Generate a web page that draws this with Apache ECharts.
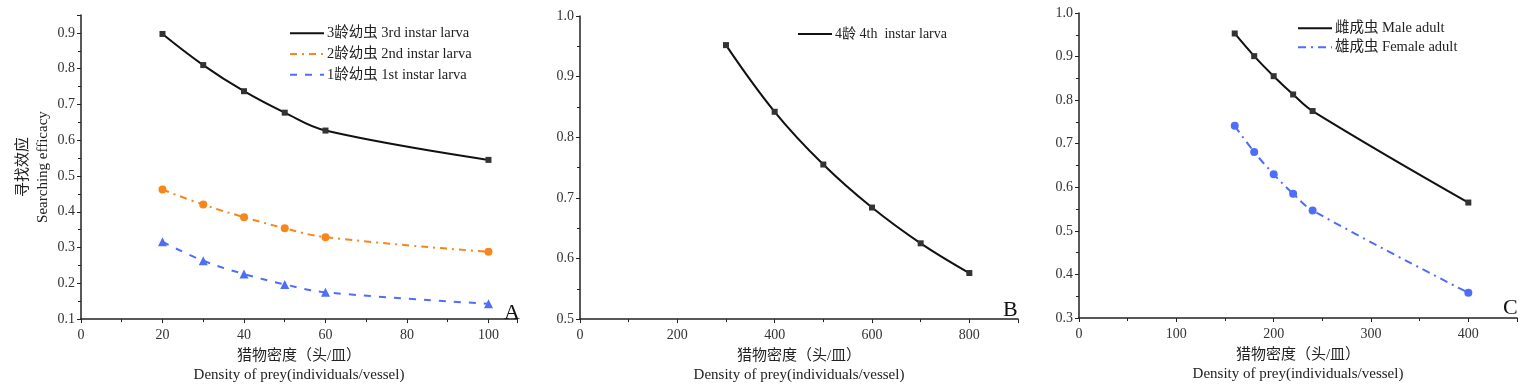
<!DOCTYPE html>
<html>
<head>
<meta charset="utf-8">
<script src="https://cdn.jsdelivr.net/npm/echarts@6/dist/echarts.min.js"></script>
<style>
html,body{margin:0;padding:0;background:#fff;}
#c{width:1535px;height:390px;}
</style>
</head>
<body>
<div id="c"></div>
<script>
// Panel A
const densityA = [20, 30, 40, 50, 60, 100];
const larva3 = [0.897, 0.810, 0.737, 0.677, 0.627, 0.545];
const larva2 = [0.462, 0.420, 0.385, 0.354, 0.329, 0.288];
const larva1 = [0.316, 0.263, 0.226, 0.197, 0.175, 0.143];
// Panel B
const densityB = [300, 400, 500, 600, 700, 800];
const larva4 = [0.952, 0.842, 0.755, 0.684, 0.625, 0.576];
// Panel C
const densityC = [160, 180, 200, 220, 240, 400];
const maleAdult = [0.953, 0.901, 0.855, 0.813, 0.775, 0.565];
const femaleAdult = [0.741, 0.681, 0.630, 0.585, 0.547, 0.358];

const names = {
  l3: '3龄幼虫 3rd instar larva',
  l2: '2龄幼虫 2nd instar larva',
  l1: '1龄幼虫 1st instar larva',
  l4: '4龄 4th  instar larva',
  male: '雌成虫 Male adult',
  female: '雄成虫 Female adult'
};
const panelLetters = ['A', 'B', 'C'];
const xName = '猎物密度（头/皿）\nDensity of prey(individuals/vessel)';
const yName = '寻找效应\nSearching efficacy';

const FONT = '"Liberation Serif", "Times New Roman", "Noto Sans CJK SC", serif';
const BLACK = '#111';
const ORANGE = '#f7861c';
const BLUE = '#4f6ef7';

function pairs(xs, ys) { return xs.map((x, i) => [x, ys[i]]); }

function xAxis(gi, max, interval) {
  return {
    type: 'value', gridIndex: gi, min: 0, max: max, interval: interval,
    name: xName, nameLocation: 'middle', nameGap: 25,
    nameTextStyle: { fontFamily: FONT, fontSize: 15, color: '#222', lineHeight: 19 },
    axisLine: { show: true, onZero: false, lineStyle: { color: '#222', width: 1.5 } },
    axisTick: { show: true, inside: false, length: 4, lineStyle: { color: '#222', width: 1 } },
    minorTick: { show: true, splitNumber: 2, length: 3, lineStyle: { color: '#222', width: 1 } },
    axisLabel: { fontFamily: FONT, fontSize: 14, color: '#333', margin: 9, showMaxLabel: false,
      formatter: v => String(Math.round(v)) },
    splitLine: { show: false }
  };
}
function yAxis(gi, min, max, withName) {
  return {
    type: 'value', gridIndex: gi, min: min, max: max, interval: 0.1,
    name: withName ? yName : '', nameLocation: 'middle', nameGap: 28, nameRotate: 90,
    nameTextStyle: { fontFamily: FONT, fontSize: 15, color: '#222', lineHeight: 20 },
    axisLine: { show: true, onZero: false, lineStyle: { color: '#222', width: 1.5 } },
    axisTick: { show: true, inside: false, length: 4, lineStyle: { color: '#222', width: 1 } },
    minorTick: { show: true, splitNumber: 2, length: 3, lineStyle: { color: '#222', width: 1 } },
    axisLabel: { fontFamily: FONT, fontSize: 14, color: '#333', margin: 6, showMaxLabel: max !== 0.95,
      formatter: v => v.toFixed(1) },
    splitLine: { show: false }
  };
}
function lineSeries(name, gi, xs, ys, color, dash, symbol, size, width) {
  return {
    name: name, type: 'line', xAxisIndex: gi, yAxisIndex: gi,
    data: pairs(xs, ys), smooth: 0.4,
    symbol: symbol, symbolSize: size,
    lineStyle: { color: color, width: width, type: dash },
    itemStyle: { color: symbol === 'rect' ? '#333' : color },
    z: 3
  };
}
function legend(left, top, data, gap, fs) {
  return {
    left: left, top: top, orient: 'vertical', padding: 0,
    itemWidth: 34, itemHeight: 14, itemGap: gap,
    data: data,
    itemStyle: { opacity: 0 },
    textStyle: { fontFamily: FONT, fontSize: fs, color: '#222', padding: [0, 0, 0, -2] },
    selectedMode: false
  };
}

const option = {
  backgroundColor: '#fff',
  animation: false,
  title: [
    { text: panelLetters[0], left: 504, top: 302, textStyle: { fontFamily: FONT, fontSize: 22, fontWeight: 'normal', color: '#111' }, padding: 0 },
    { text: panelLetters[1], left: 1003, top: 299, textStyle: { fontFamily: FONT, fontSize: 22, fontWeight: 'normal', color: '#111' }, padding: 0 },
    { text: panelLetters[2], left: 1503, top: 297, textStyle: { fontFamily: FONT, fontSize: 22, fontWeight: 'normal', color: '#111' }, padding: 0 }
  ],
  grid: [
    { left: 81, top: 15, width: 436, height: 306, containLabel: false },
    { left: 580, top: 16, width: 438, height: 305, containLabel: false },
    { left: 1079, top: 13, width: 438, height: 305, containLabel: false }
  ],
  xAxis: [ xAxis(0, 107, 20), xAxis(1, 900, 200), xAxis(2, 450, 100) ],
  yAxis: [ yAxis(0, 0.1, 0.95, true), yAxis(1, 0.5, 1.0, false), yAxis(2, 0.3, 1.0, false) ],
  legend: [
    legend(289, 26, [names.l3, names.l2, names.l1], 6.3, 14.5),
    legend(797, 27, [names.l4], 6, 14),
    legend(1297, 21, [names.male, names.female], 4.5, 14.5)
  ],
  series: [
    lineSeries(names.l3, 0, densityA, larva3, BLACK, 'solid', 'rect', 6, 2),
    lineSeries(names.l2, 0, densityA, larva2, ORANGE, [7, 5, 2, 5], 'circle', 8, 2),
    lineSeries(names.l1, 0, densityA, larva1, BLUE, [7, 8], 'triangle', 9, 2),
    lineSeries(names.l4, 1, densityB, larva4, BLACK, 'solid', 'rect', 6, 2),
    lineSeries(names.male, 2, densityC, maleAdult, BLACK, 'solid', 'rect', 6, 2),
    lineSeries(names.female, 2, densityC, femaleAdult, BLUE, [8, 5, 2, 5], 'circle', 8, 2)
  ]
};
const chart = echarts.init(document.getElementById('c'), null, { renderer: 'canvas' });
chart.setOption(option);
</script>
</body>
</html>
